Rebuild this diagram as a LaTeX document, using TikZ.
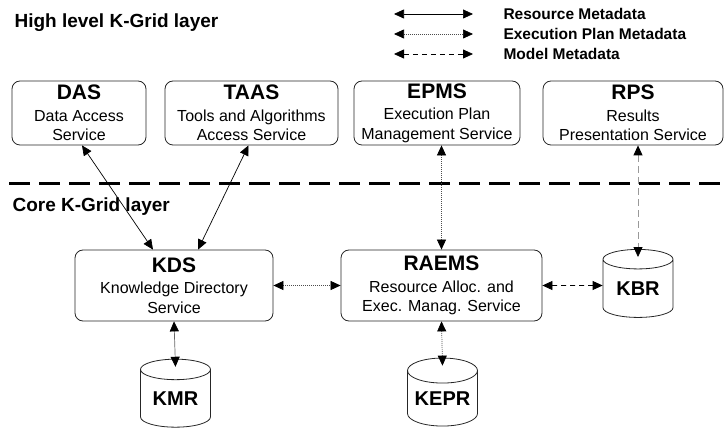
\documentclass[tikz,border=0pt]{standalone}
\usepackage{fontspec}
\setmainfont{Liberation Sans}
\usetikzlibrary{arrows.meta,shapes.geometric}

\newcommand{\srvname}[1]{{\fontsize{21}{22}\selectfont\bfseries #1}\\[2pt]}

\tikzset{
	service/.style={draw=black!85, line width=0.8pt, rounded corners=8pt, align=center, inner sep=0pt, font=\fontsize{16}{19.5}\selectfont},
	repo/.style={cylinder, shape border rotate=90, aspect=0.45, draw=black!85, line width=0.8pt, minimum width=70pt, minimum height=68pt, inner sep=0pt, font=\fontsize{20}{22}\selectfont\bfseries},
	resmeta/.style={{Triangle[length=10pt,width=9pt]}-{Triangle[length=10pt,width=9pt]}, line width=0.7pt, black},
	planmeta/.style={{Triangle[length=10pt,width=9pt,color=black]}-{Triangle[length=10pt,width=9pt,color=black]}, line width=0.7pt, black!70, dash pattern=on 1pt off 1pt},
	modelmeta/.style={{Triangle[length=10pt,width=9pt,color=black]}-{Triangle[length=10pt,width=9pt,color=black]}, line width=0.8pt, dash pattern=on 5pt off 4pt},
	layer/.style={font=\fontsize{19}{22}\selectfont\bfseries, anchor=west},
	legend/.style={font=\fontsize{15.5}{17}\selectfont\bfseries, anchor=west}
}

\begin{document}
\begin{tikzpicture}[x=1pt, y=1pt]
	\useasboundingbox (0,0) rectangle (725,434);

	% layers
	\node[layer] (high) at (11,411) {High level K-Grid layer};
	\node[layer] (core) at (9,227) {Core K-Grid layer};
	\draw[line width=3pt, dash pattern=on 21pt off 9pt] (9,250) -- (725,250);

	% legend
	\coordinate (resA) at (394,420); \coordinate (resB) at (473,420);
	\coordinate (planA) at (394,400); \coordinate (planB) at (473,400);
	\coordinate (modA) at (394,380); \coordinate (modB) at (473,380);
	\draw[resmeta] (resA) -- (resB);
	\draw[planmeta] (planA) -- (planB);
	\draw[modelmeta] (modA) -- (modB);
	\node[legend] (resTxt) at (500,420) {Resource Metadata};
	\node[legend] (planTxt) at (500,400) {Execution Plan Metadata};
	\node[legend] (modTxt) at (500,380) {Model Metadata};

	% high level services
	\node[service, minimum width=134pt, minimum height=64pt] (das) at (79,321) {\srvname{DAS}Data Access\\Service};
	\node[service, minimum width=173pt, minimum height=64pt] (taas) at (251.5,321) {\srvname{TAAS}Tools and Algorithms\\Access Service};
	\node[service, minimum width=166pt, minimum height=64pt] (epms) at (437,321) {\srvname{EPMS}Execution Plan\\Management Service};
	\node[service, minimum width=180pt, minimum height=64pt] (rps) at (633,321) {\srvname{RPS}Results\\Presentation Service};

	% core services
	\node[service, minimum width=198pt, minimum height=71pt] (kds) at (174,148.5) {\srvname{KDS}Knowledge Directory\\Service};
	\node[service, minimum width=201pt, minimum height=71pt] (raems) at (441.5,148.5) {\srvname{RAEMS}Resource Alloc. and\\Exec. Manag. Service};

	% repositories
	\node[repo] (kbr) at (638,145.5) {KBR};
	\node[repo] (kmr) at (175.5,35.5) {KMR};
	\node[repo] (kepr) at (442.5,35.5) {KEPR};

	% links
	\draw[resmeta] ([xshift=3pt]das.south) -- ([xshift=-21pt]kds.north);
	\draw[resmeta] ([xshift=-3pt]taas.south) -- ([xshift=24pt]kds.north);
	\draw[resmeta, black!60, {Triangle[length=10pt,width=9pt,color=black]}-{Triangle[length=10pt,width=9pt,color=black]}] (kds.south) -- ([yshift=-8pt]kmr.top);
	\draw[planmeta] (raems.north |- epms.south) -- (raems.north);
	\draw[planmeta] (kds.east) -- (raems.west);
	\draw[planmeta] (raems.south) -- ([yshift=-8pt]kepr.top);
	\draw[modelmeta] (raems.east) -- ([yshift=3pt]kbr.west);
	\draw[modelmeta, black!40, dash pattern=on 7pt off 4pt] (kbr.top |- rps.south) -- ([yshift=-8pt]kbr.top);
\end{tikzpicture}
\end{document}
